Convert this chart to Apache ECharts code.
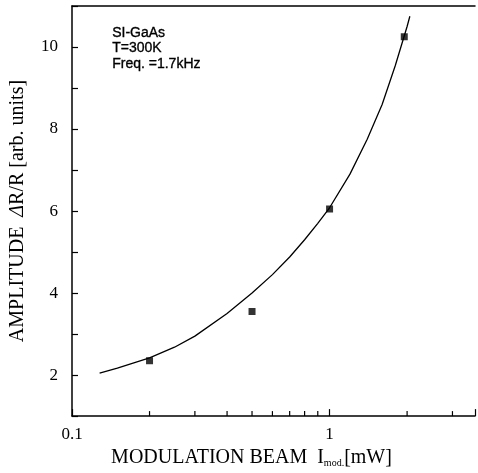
<!DOCTYPE html>
<html>
<head>
<meta charset="utf-8">
<script src="https://cdn.jsdelivr.net/npm/echarts@6/dist/echarts.min.js"></script>
<style>html,body{margin:0;padding:0;background:#fff}#c{width:478px;height:473px}</style>
</head>
<body>
<div id="c"></div>
<script>
// measured points
const pointX = [0.2, 0.5, 1.0, 1.95];
const pointY = [2.35, 3.55, 6.05, 10.25];
// fitted curve
const curveX = [0.128, 0.15, 0.2, 0.25, 0.3, 0.4, 0.5, 0.6, 0.7, 0.8, 0.9, 1.0, 1.2, 1.4, 1.6, 1.8, 2.0, 2.05];
const curveY = [2.05, 2.17, 2.42, 2.68, 2.95, 3.5, 4.0, 4.45, 4.88, 5.3, 5.7, 6.08, 6.9, 7.75, 8.6, 9.55, 10.5, 10.75];
// minor tick positions on the log axis
const minorTicksX = [0.2, 0.3, 0.4, 0.5, 0.6, 0.7, 0.8, 0.9, 2, 3];
const xLabels = ['0.1', '1'];
const yLabels = [2, 4, 6, 8, 10];
const annotation = ['SI-GaAs', 'T=300K', 'Freq. =1.7kHz'];

const chart = echarts.init(document.getElementById('c'));
const serif = 'Liberation Serif';
chart.setOption({
  animation: false,
  grid: { left: 68, right: 0, top: 6, bottom: 56, show: false },
  xAxis: [{
    type: 'log', logBase: 10, min: 0.1, max: 3.67,
    position: 'bottom',
    axisLine: { show: true, lineStyle: { color: '#000', width: 1.5 } },
    axisTick: { show: true, inside: true, length: 7, lineStyle: { color: '#000', width: 1.2 } },
    splitLine: { show: false },
    axisLabel: {
      margin: 10, color: '#000', fontFamily: serif, fontSize: 17,
      formatter: v => (Math.abs(v - 0.1) < 1e-9 ? xLabels[0] : (Math.abs(v - 1) < 1e-9 ? xLabels[1] : ''))
    },
    name: '{a|MODULATION BEAM  I}{s|mod.}{a|[mW]}',
    nameLocation: 'middle', nameGap: 30,
    nameTextStyle: {
      padding: [0, 44, 0, 0],
      rich: {
        a: { fontFamily: serif, fontSize: 20, color: '#000' },
        s: { fontFamily: serif, fontSize: 10, color: '#000', verticalAlign: 'bottom', padding: [8, 0, 0, 0] }
      }
    }
  }, {
    type: 'log', logBase: 10, min: 0.1, max: 3.67, position: 'top',
    axisLine: { show: true, onZero: false, lineStyle: { color: '#000', width: 1.5 } },
    axisTick: { show: false }, axisLabel: { show: false }, splitLine: { show: false }
  }],
  yAxis: {
    type: 'value', min: 1, max: 11, interval: 1,
    axisLine: { show: true, lineStyle: { color: '#000', width: 1.5 } },
    axisTick: { show: true, inside: true, length: 6, lineStyle: { color: '#000', width: 1.2 } },
    splitLine: { show: false },
    axisLabel: {
      margin: 14, color: '#000', fontFamily: serif, fontSize: 17,
      formatter: v => (yLabels.indexOf(v) >= 0 ? String(v) : '')
    },
    name: '{a|AMPLITUDE  }{i|Δ}{a|R/R [arb. units]}',
    nameLocation: 'middle', nameGap: 44,
    nameTextStyle: {
      rich: {
        a: { fontFamily: serif, fontSize: 20, color: '#000' },
        i: { fontFamily: serif, fontSize: 20, fontStyle: 'italic', color: '#000' }
      }
    }
  },
  graphic: [{
    type: 'text', left: 112, top: 25,
    style: {
      text: annotation.join('\n'), font: '14px "Liberation Sans"', lineHeight: 15.5,
      fill: '#000', stroke: '#000', lineWidth: 0.35
    }
  }],
  series: [{
    type: 'line', xAxisIndex: 0,
    data: curveX.map((x, i) => [x, curveY[i]]),
    smooth: false, showSymbol: false, symbol: 'none',
    lineStyle: { color: '#000', width: 1.3 }
  }, {
    type: 'scatter', xAxisIndex: 0,
    data: pointX.map((x, i) => [x, pointY[i]]),
    symbol: 'rect', symbolSize: 7,
    itemStyle: { color: '#000' }
  }, {
    type: 'custom', xAxisIndex: 0,
    data: minorTicksX.map(x => [x, 1]),
    renderItem: (params, api) => {
      const p = api.coord([api.value(0), api.value(1)]);
      return { type: 'line', shape: { x1: p[0], y1: p[1], x2: p[0], y2: p[1] - 5 },
        style: { stroke: '#000', lineWidth: 1.2 } };
    },
    silent: true
  }]
});
</script>
</body>
</html>
